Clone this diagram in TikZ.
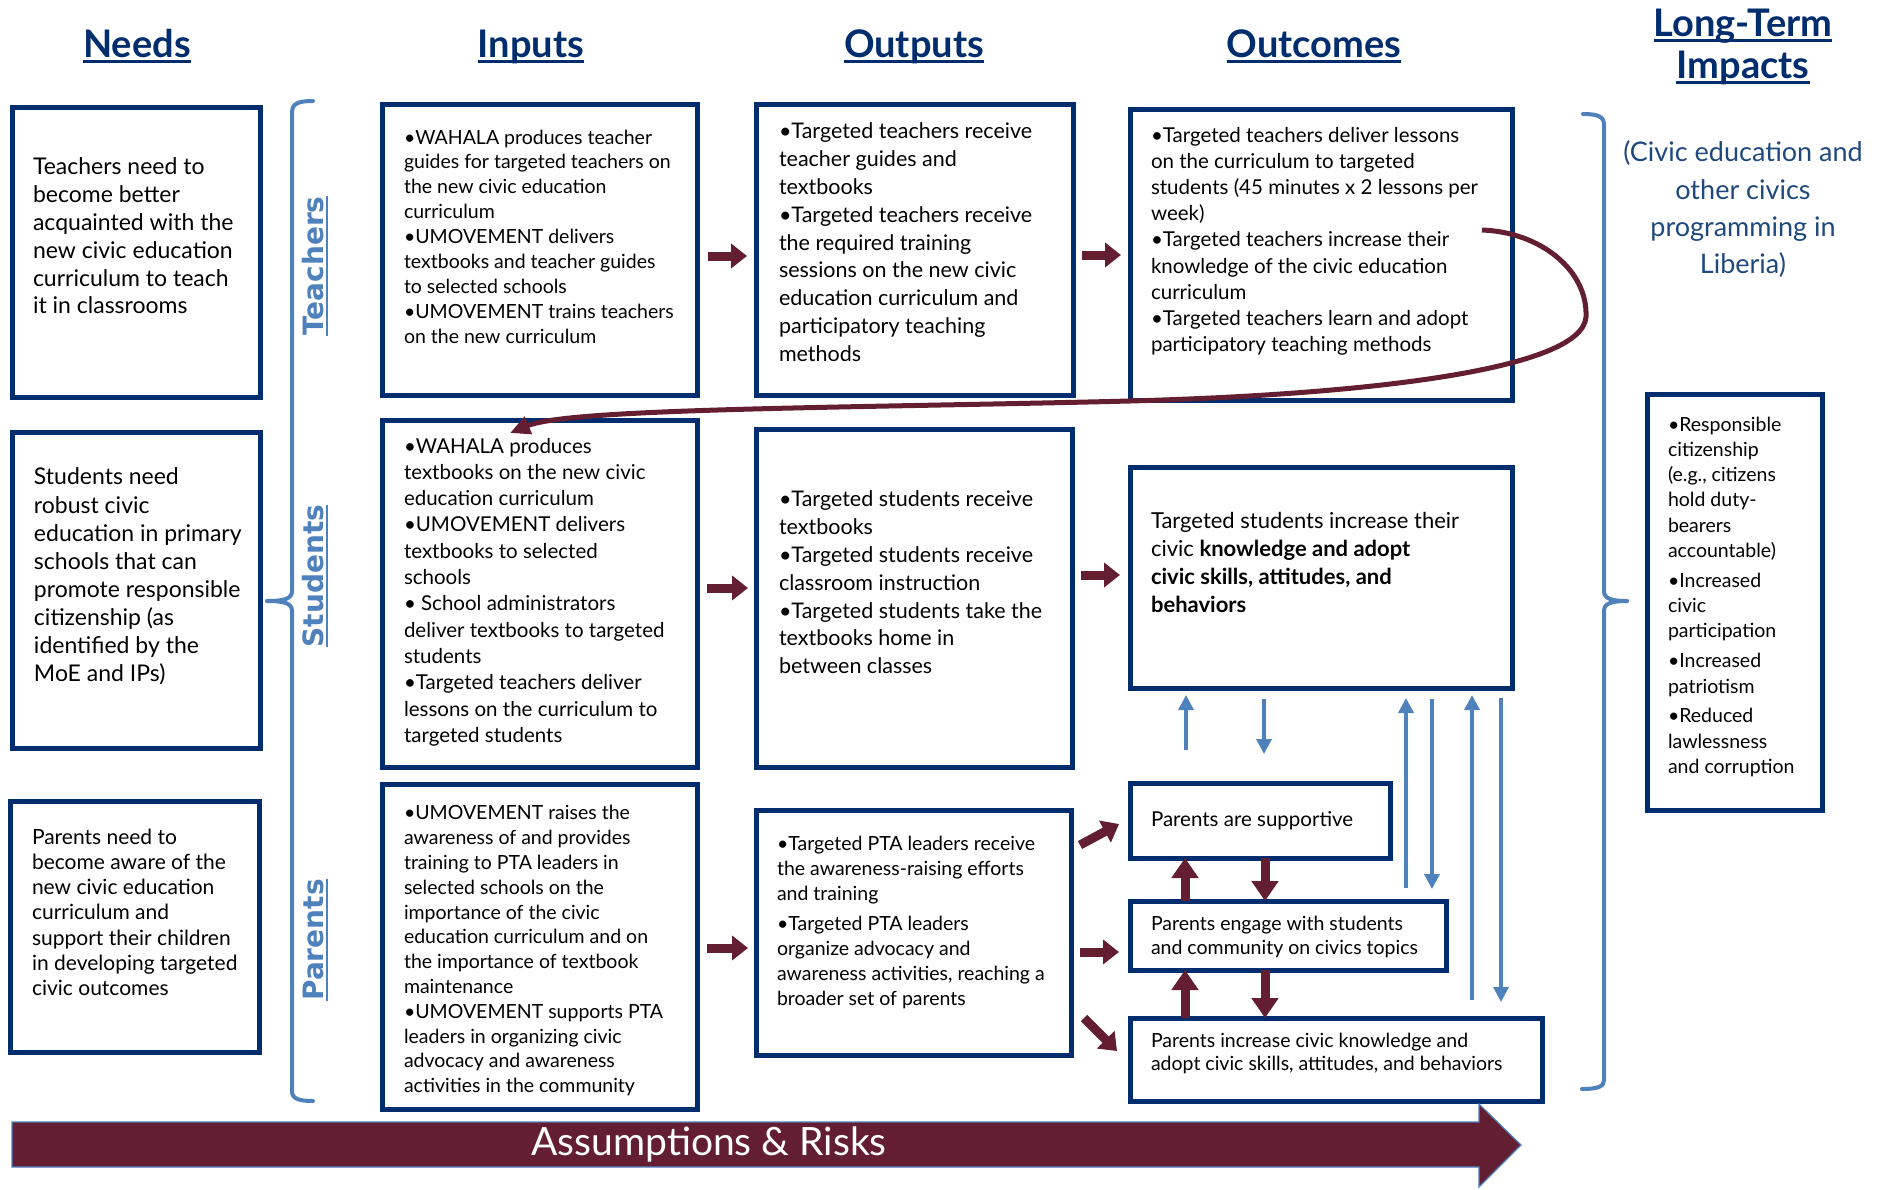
\documentclass[tikz,border=0pt]{standalone}
\usepackage{fontspec}
\setmainfont{Lato}
\newfontfamily\dvs{DejaVu Sans}
\usetikzlibrary{arrows.meta}
\definecolor{navy}{RGB}{0,45,110}
\definecolor{maroon}{RGB}{100,30,50}
\definecolor{lblue}{RGB}{79,129,189}
\definecolor{civic}{RGB}{31,73,125}
\newcommand{\fs}[2]{\fontsize{#1}{#2}\selectfont}
\begin{document}
\begin{tikzpicture}[x=1pt,y=-1pt,
  box/.style={draw=navy, line width=5pt, outer sep=0pt, inner sep=0pt, anchor=north west},
  txt/.style={anchor=north west, align=left, inner sep=0pt, outer sep=0pt},
  hdr/.style={font=\fs{38}{40}\bfseries, text=navy, inner sep=0pt, anchor=base},
  hline/.style={draw=navy, line width=2.5pt},
  barrow/.style={draw=maroon, line width=9pt, -{Triangle[length=16pt,width=24pt]}},
  parrow/.style={draw=maroon, line width=9pt, -{Triangle[length=20pt,width=26pt]}},
  larrow/.style={draw=lblue, line width=3.5pt, -{Triangle[length=15pt,width=15pt]}},
  brk/.style={draw=lblue, line width=4pt, line cap=round},
  grp/.style={font=\dvs\bfseries\fs{28}{30}, text=lblue, rotate=90, anchor=base, inner sep=0pt},
  gline/.style={draw=lblue, line width=2pt}
]
\useasboundingbox (0,0) rectangle (1885,1189);

% headers
\node[hdr] (hneeds) at (137,57) {Needs};
\node[hdr] (hinputs) at (531,57) {Inputs};
\node[hdr] (houtputs) at (914,57) {Outputs};
\node[hdr] (houtcomes) at (1314,57) {Outcomes};
\node[hdr] (hlong1) at (1743,36) {Long-Term};
\node[hdr] (hlong2) at (1743,78) {Impacts};
\foreach \h in {hneeds,hinputs,houtputs,houtcomes,hlong1,hlong2}
  \draw[hline] ([shift={(0,4.5)}]\h.base west) -- ([shift={(0,4.5)}]\h.base east);

% brackets
\draw[brk] (313,101) .. controls (297,101) and (292,104) .. (292,113) -- (292,591) .. controls (292,598) and (286,601) .. (267,601);
\draw[brk] (267,601) .. controls (286,601) and (292,604) .. (292,611) -- (292,1091) .. controls (292,1098) and (297,1101) .. (313,1101);
\draw[brk] (1583,114) .. controls (1599,114) and (1604,117) .. (1604,125) -- (1604,591) .. controls (1604,598) and (1610,601) .. (1627,601);
\draw[brk] (1627,601) .. controls (1610,601) and (1604,604) .. (1604,611) -- (1604,1080) .. controls (1604,1086) and (1599,1089) .. (1582,1089);

% group labels
\node[grp] (gt) at (323,266) {Teachers};
\node[grp] (gs) at (323,576) {Students};
\node[grp] (gp) at (323,940) {Parents};
\foreach \g in {gt,gs,gp}
  \draw[gline] ([shift={(3.5,0)}]\g.base west) -- ([shift={(3.5,0)}]\g.base east);

% boxes
\node[box, minimum width=248pt, minimum height=290pt] (n1) at (12.5,107.5) {};
\node[box, minimum width=248pt, minimum height=316pt] (n2) at (12.5,432.5) {};
\node[box, minimum width=249pt, minimum height=251pt] (n3) at (10.5,801.5) {};
\node[box, minimum width=315pt, minimum height=291pt] (i1) at (382.5,104.5) {};
\node[box, minimum width=315pt, minimum height=347pt] (i2) at (382.5,420.5) {};
\node[box, minimum width=315pt, minimum height=325pt] (i3) at (382.5,784.5) {};
\node[box, minimum width=317pt, minimum height=291pt] (o1) at (756.5,104.5) {};
\node[box, minimum width=316pt, minimum height=338pt] (o2) at (756.5,429.5) {};
\node[box, minimum width=315pt, minimum height=245pt] (o3) at (756.5,810.5) {};
\node[box, minimum width=382pt, minimum height=291pt] (c1) at (1130.5,109.5) {};
\node[box, minimum width=382pt, minimum height=221pt] (c2) at (1130.5,467.5) {};
\node[box, minimum width=260pt, minimum height=75pt] (p1) at (1130,783) {};
\node[box, minimum width=316pt, minimum height=69pt] (p2) at (1130,901) {};
\node[box, minimum width=412pt, minimum height=83pt] (p3) at (1130,1018) {};
\node[box, minimum width=175pt, minimum height=416pt] (lt) at (1647.5,394.5) {};

% block arrows between columns
\draw[barrow] ([shift={(10.5,6)}]i1.east) -- ([shift={(-9.5,6)}]o1.west);
\draw[barrow] ([shift={(8.5,5)}]o1.east) -- ([shift={(-9.5,0)}]c1.west);
\draw[barrow] ([shift={(9.5,-6)}]i2.east) -- ([shift={(-8.5,-10.5)}]o2.west);
\draw[barrow] ([shift={(8.5,-23.5)}]o2.east) -- ([shift={(-10.5,-3)}]c2.west);
\draw[barrow] ([shift={(9.5,1)}]i3.east) -- ([shift={(-8.5,15)}]o3.west);
\draw[barrow] ([shift={(8.5,-88)}]o3.east) -- ([shift={(-11,3.5)}]p1.west);
\draw[barrow] ([shift={(8.5,19)}]o3.east) -- ([shift={(-11,16.5)}]p2.west);
\draw[barrow] ([shift={(12.5,85)}]o3.east) -- ([shift={(-13,-8.5)}]p3.west);

% maroon arrows between parent boxes
\draw[parrow] ([shift={(55,0)}]p2.north west) -- ([shift={(55,0)}]p1.south west);
\draw[parrow] ([shift={(135,0)}]p1.south west) -- ([shift={(135,0)}]p2.north west);
\draw[parrow] ([shift={(55,0)}]p3.north west) -- ([shift={(55,0)}]p2.south west);
\draw[parrow] ([shift={(135,0)}]p2.south west) -- ([shift={(135,0)}]p3.north west);

% light blue arrows
\draw[larrow] ([shift={(56,-33)}]p1.north west) -- ([shift={(55.5,6.5)}]c2.south west);
\draw[larrow] ([shift={(133.5,10.5)}]c2.south west) -- ([shift={(134,-29)}]p1.north west);
\draw[larrow] ([shift={(276,-13)}]p2.north west) -- ([shift={(275.5,9.5)}]c2.south west);
\draw[larrow] ([shift={(301.5,10.5)}]c2.south west) -- ([shift={(302,-12)}]p2.north west);
\draw[larrow] ([shift={(342,-18)}]p3.north west) -- ([shift={(341.5,6.5)}]c2.south west);
\draw[larrow] ([shift={(370.5,9.5)}]c2.south west) -- ([shift={(371,-16)}]p3.north west);

% curved feedback arrow
\draw[draw=maroon, line width=5pt, -{Triangle[length=20pt,width=18pt]}]
  ([shift={(351.5,120.5)}]c1.north west) .. controls (1540,232) and (1588,270) .. (1586,317)
  .. controls (1582,372) and (1350,395) .. (1130,401)
  .. controls (850,408) and (570,408) .. ([shift={(127.5,12.5)}]i2.north west);

% assumptions arrow
\fill[maroon, draw=lblue, line width=1.2pt] (12,1122) -- (1479,1122) -- (1479,1104) -- (1521,1145) -- (1479,1187) -- (1479,1167) -- (12,1167) -- cycle;
\node[font=\fs{39}{40}, text=white, anchor=base, inner sep=0pt] (ar) at (709,1155) {Assumptions \& Risks};

% texts
\node[txt, font=\fs{23}{27.8}] (n1t) at (33,155.5) {\strut Teachers need to\\ become better\\ acquainted with the\\ new civic education\\ curriculum to teach\\ it in classrooms};
\node[txt, font=\fs{23}{28.1}] (n2t) at (34,465.3) {\strut Students need\\ robust civic\\ education in primary\\ schools that can\\ promote responsible\\ citizenship (as\\ identified by the\\ MoE and IPs)};
\node[txt, font=\fs{21}{25.3}] (n3t) at (32,826.3) {\strut Parents need to\\ become aware of the\\ new civic education\\ curriculum and\\ support their children\\ in developing targeted\\ civic outcomes};

\node[txt, font=\fs{19.5}{24.9}] (i1t) at (404,126.6) {\strut •WAHALA produces teacher\\ guides for targeted teachers on\\ the new civic education\\ curriculum\\ •UMOVEMENT delivers\\ textbooks and teacher guides\\ to selected schools\\ •UMOVEMENT trains teachers\\ on the new curriculum};
\node[txt, font=\fs{20.5}{26.3}] (i2t) at (404,434.6) {\strut •WAHALA produces\\ textbooks on the new civic\\ education curriculum\\ •UMOVEMENT delivers\\ textbooks to selected\\ schools\\ • School administrators\\ deliver textbooks to targeted\\ students\\ •Targeted teachers deliver\\ lessons on the curriculum to\\ targeted students};
\node[txt, font=\fs{19.5}{24.8}] (i3t) at (404,802.6) {\strut •UMOVEMENT raises the\\ awareness of and provides\\ training to PTA leaders in\\ selected schools on the\\ importance of the civic\\ education curriculum and on\\ the importance of textbook\\ maintenance\\ •UMOVEMENT supports PTA\\ leaders in organizing civic\\ advocacy and awareness\\ activities in the community};

\node[txt, font=\fs{21.5}{27.8}] (o1t) at (779,119.5) {\strut •Targeted teachers receive\\ teacher guides and\\ textbooks\\ •Targeted teachers receive\\ the required training\\ sessions on the new civic\\ education curriculum and\\ participatory teaching\\ methods};
\node[txt, font=\fs{21.5}{27.8}] (o2t) at (779,487.5) {\strut •Targeted students receive\\ textbooks\\ •Targeted students receive\\ classroom instruction\\ •Targeted students take the\\ textbooks home in\\ between classes};
\node[txt, font=\fs{19.5}{25}] (o3t) at (777,832.5) {\strut •Targeted PTA leaders receive\\ the awareness-raising efforts\\ and training\\[5pt] •Targeted PTA leaders\\ organize advocacy and\\ awareness activities, reaching a\\ broader set of parents};

\node[txt, font=\fs{20.5}{26.2}] (c1t) at (1151,123.7) {\strut •Targeted teachers deliver lessons\\ on the curriculum to targeted\\ students (45 minutes x 2 lessons per\\ week)\\ •Targeted teachers increase their\\ knowledge of the civic education\\ curriculum\\ •Targeted teachers learn and adopt\\ participatory teaching methods};
\node[txt, font=\fs{22}{27.9}] (c2t) at (1151,509) {\strut Targeted students increase their\\ civic \textbf{knowledge and adopt}\\ \textbf{civic skills, attitudes, and}\\ \textbf{behaviors}};
\node[txt, font=\fs{20.5}{25}] (p1t) at (1151,808.5) {\strut Parents are supportive};
\node[txt, font=\fs{19.5}{24.3}] (p2t) at (1151,913) {\strut Parents engage with students\\ and community on civics topics};
\node[txt, font=\fs{19.5}{23}] (p3t) at (1151,1030.9) {\strut Parents increase civic knowledge and\\ adopt civic skills, attitudes, and behaviors};

\node[txt, font=\fs{19.5}{25.3}] (ltt) at (1668,413.3) {\strut •Responsible\\ citizenship\\ (e.g., citizens\\ hold duty-\\ bearers\\ accountable)\\[4.5pt] •Increased\\ civic\\ participation\\[4.5pt] •Increased\\ patriotism\\[4.5pt] •Reduced\\ lawlessness\\ and corruption};

\node[anchor=north, align=center, inner sep=0pt, text=civic, font=\fs{27}{37.3}] (civ) at (1743,135.5) {\strut(Civic education and\\ other civics\\ programming in\\ Liberia)};
\end{tikzpicture}
\end{document}
